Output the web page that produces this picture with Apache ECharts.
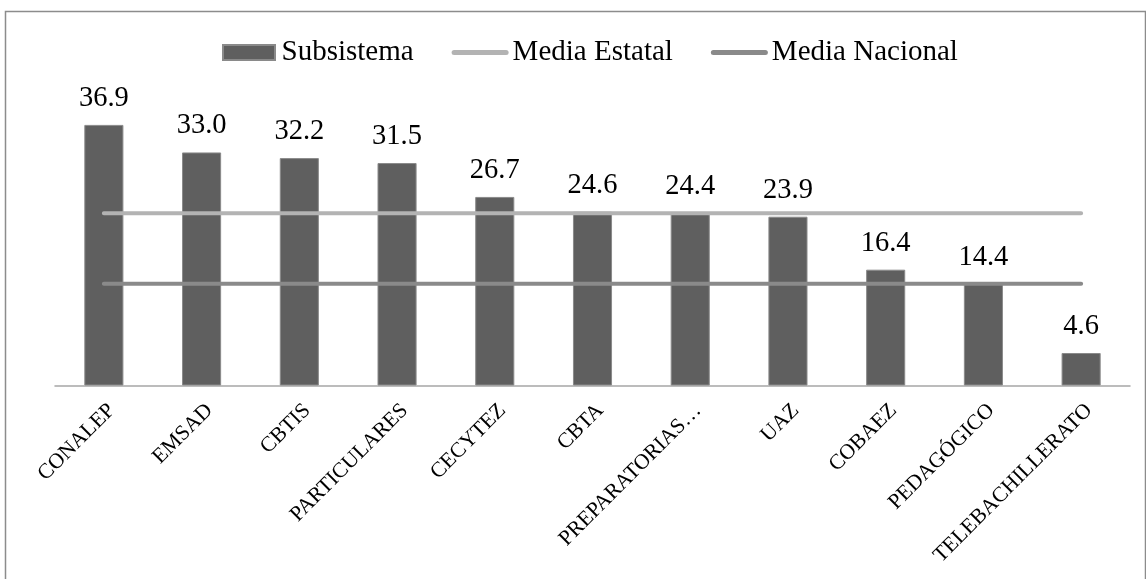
<!DOCTYPE html>
<html>
<head>
<meta charset="utf-8">
<script src="https://cdn.jsdelivr.net/npm/echarts@6/dist/echarts.min.js"></script>
<style>html,body{margin:0;padding:0;background:#fff}#c{width:1146px;height:579px}</style>
</head>
<body>
<div id="c"></div>
<script>
const categories = ['CONALEP','EMSAD','CBTIS','PARTICULARES','CECYTEZ','CBTA','PREPARATORIAS…','UAZ','COBAEZ','PEDAGÓGICO','TELEBACHILLERATO'];
const subsistema = [36.9, 33.0, 32.2, 31.5, 26.7, 24.6, 24.4, 23.9, 16.4, 14.4, 4.6];
const mediaEstatal = [24.4, 24.4, 24.4, 24.4, 24.4, 24.4, 24.4, 24.4, 24.4, 24.4, 24.4];
const mediaNacional = [14.4, 14.4, 14.4, 14.4, 14.4, 14.4, 14.4, 14.4, 14.4, 14.4, 14.4];

const font = 'Liberation Serif';
const lineIcon = 'path://M2.5,0 L54.5,0 A2.5,2.5 0 0 1 54.5,5 L2.5,5 A2.5,2.5 0 0 1 2.5,0 Z';
const rectIcon = 'path://M0,0 L52,0 L52,15 L0,15 Z';
const chart = echarts.init(document.getElementById('c'), null, {renderer: 'canvas'});
chart.setOption({
  animation: false,
  backgroundColor: '#fff',
  graphic: [{
    type: 'rect', left: 3, top: 9, z: -1,
    shape: {width: 1140, height: 620},
    style: {fill: 'none', stroke: '#8c8c8c', lineWidth: 1.5}
  }],
  legend: {
    top: 33, left: 217,
    itemGap: 38, itemWidth: 57, itemHeight: 15,
    textStyle: {fontFamily: font, fontSize: 29, color: '#000', padding: [0,0,0,-1]},
    data: [
      {name: 'Subsistema', icon: rectIcon},
      {name: 'Media Estatal', icon: lineIcon},
      {name: 'Media Nacional', icon: lineIcon}
    ]
  },
  grid: {left: 55, right: 16, top: 103, bottom: 193.5},
  xAxis: {
    type: 'category', data: categories, boundaryGap: true,
    axisLine: {lineStyle: {color: '#a6a6a6', width: 1.5}},
    axisTick: {show: false},
    axisLabel: {interval: 0, rotate: 45, fontFamily: font, fontSize: 21.5, color: '#000', margin: 14, verticalAlign: 'top'}
  },
  yAxis: {type: 'value', min: 0, max: 40, show: false, splitLine: {show: false}},
  series: [
    {
      name: 'Subsistema', type: 'bar', data: subsistema, barWidth: '40%',
      itemStyle: {color: '#5f5f5f', borderColor: '#8a8a8a', borderWidth: 1},
      label: {show: true, position: 'top', distance: 12, fontFamily: font, fontSize: 28.5, color: '#000',
        formatter: p => p.value.toFixed(1)},
      z: 2
    },
    {
      name: 'Media Estatal', type: 'line', data: mediaEstatal, symbol: 'none',
      lineStyle: {color: '#b3b3b3', width: 4, cap: 'round'}, itemStyle: {color: '#b3b3b3'}, z: 3
    },
    {
      name: 'Media Nacional', type: 'line', data: mediaNacional, symbol: 'none',
      lineStyle: {color: '#8a8a8a', width: 4, cap: 'round'}, itemStyle: {color: '#8a8a8a'}, z: 3
    }
  ]
});
</script>
</body>
</html>
